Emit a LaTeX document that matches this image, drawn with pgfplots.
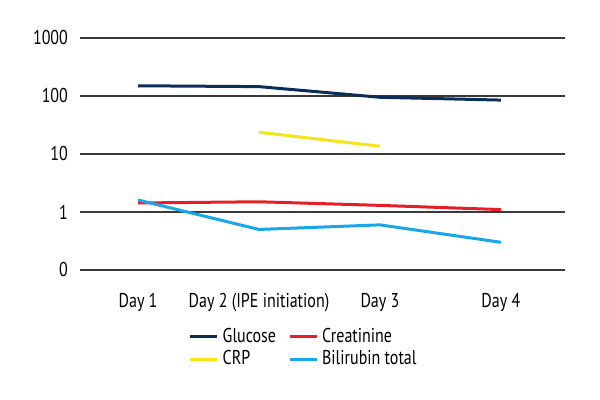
\documentclass[border=0pt]{standalone}
\usepackage{fontspec}
\setmainfont{PT Sans}[FakeStretch=0.8]
\usepackage{pgfplots}
\pgfplotsset{compat=1.18}
\definecolor{gluc}{HTML}{0B2D57}
\definecolor{crp}{HTML}{F2E61A}
\definecolor{crea}{HTML}{E61E2A}
\definecolor{bili}{HTML}{1AA6E8}
\definecolor{gridc}{HTML}{3A3A3A}

\begin{document}
\begin{tikzpicture}
  \useasboundingbox (0,0) rectangle (300pt,200pt);
  \begin{axis}[
      at={(40pt,65pt)}, anchor=south west,
      scale only axis, width=242.5pt, height=116pt,
      ymode=log, ymin=0.1, ymax=1000,
      ytick={0.1,1,10,100,1000}, yticklabels={0,1,10,100,1000},
      xmin=-0.48, xmax=3.53,
      xtick={0,1,2,3},
      xticklabels={Day 1,Day 2 (IPE initiation),Day 3,Day 4},
      axis line style={draw=none}, tick style={draw=none},
      ymajorgrids, grid style={gridc, line width=0.8pt},
      yminorgrids=false, minor tick num=0,
      ticklabel style={font=\fontsize{10}{11}\selectfont},
      /pgf/number format/assume math mode=true,
      yticklabel style={xshift=-2.5pt},
      xticklabel style={yshift=-8pt},
      every axis plot/.append style={line width=1.5pt},
      legend columns=2,
      legend style={at={(0.211,-0.215)}, anchor=north west, draw=none, fill=none,
        font=\fontsize{10}{11}\selectfont, row sep=-1.5pt,
        /tikz/every even column/.append style={column sep=4pt}},
      legend cell align=left,
      legend image code/.code={\draw[#1, line width=1.5pt] (0pt,0pt) -- (13.5pt,0pt);},
    ]
    \addplot[gluc, no marks] coordinates {(0,150) (1,145) (2,95) (3,85)};
    \addlegendentry{Glucose}
    \addplot[crea, no marks] coordinates {(0,1.43) (1,1.5) (2,1.3) (3,1.1)};
    \addlegendentry{Creatinine}
    \addplot[crp, no marks] coordinates {(1,23.7) (2,13.6)};
    \addlegendentry{CRP}
    \addplot[bili, no marks] coordinates {(0,1.61) (1,0.50) (2,0.60) (3,0.30)};
    \addlegendentry{Bilirubin total}
  \end{axis}
\end{tikzpicture}
\end{document}
